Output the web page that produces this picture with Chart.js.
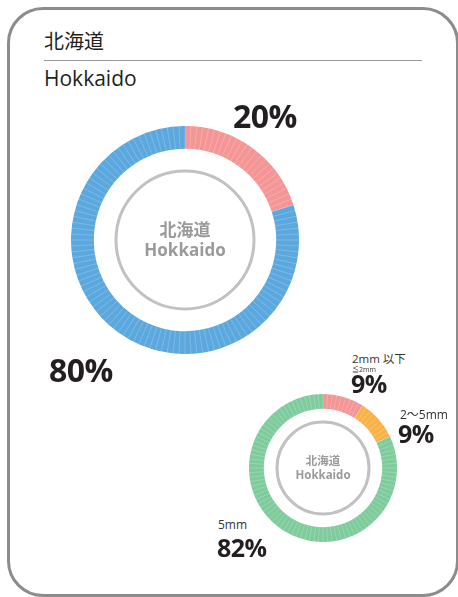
<!DOCTYPE html>
<html>
<head>
<meta charset="utf-8">
<script src="https://cdn.jsdelivr.net/npm/chart.js@4"></script>
<style>
  html, body { margin: 0; padding: 0; background: #fff; }
  body { width: 458px; height: 597px; position: relative; overflow: hidden;
         font-family: "Open Sans", "Noto Sans", "Noto Sans CJK JP", sans-serif; color: #231f20; }
  .card { position: absolute; left: 7px; top: 7px; width: 446px; height: 584px;
          border: 3px solid #8c8c8c; border-radius: 36px; }
  .title { position: absolute; left: 44px; font-size: 21px; line-height: 1; }
  .rule { position: absolute; left: 44px; top: 60px; width: 378px; height: 0; border-top: 1px solid #9a9a9a; }
  .pct { position: absolute; font-weight: 700; line-height: 1; letter-spacing: -0.5px; }
  .cap { position: absolute; font-size: 12px; line-height: 1; color: #333; }
  .box { position: absolute; }
</style>
</head>
<body>
<div class="card"></div>
<div class="title" style="top:31px; font-family:'Noto Sans CJK JP'; font-size:20px;">北海道</div>
<div class="rule"></div>
<div class="title" style="top:68px;">Hokkaido</div>

<div class="box" style="left:71px; top:126px; width:228px; height:228px;"><canvas id="chartAll"></canvas></div>
<div class="box" style="left:249px; top:394px; width:148px; height:148px;"><canvas id="chartSize"></canvas></div>

<div class="pct" id="pAll0" style="left:233px; top:100px; font-size:32px;"></div>
<div class="pct" id="pAll1" style="left:49px; top:354px; font-size:32px;"></div>

<div class="cap" id="cSize0" style="left:352px; top:353px; font-size:11.5px;"></div>
<div class="cap" id="cSize0b" style="left:352px; top:366px; font-size:7px;"></div>
<div class="pct" id="pSize0" style="left:351px; top:371px; font-size:25px;"></div>
<div class="cap" id="cSize1" style="left:400px; top:409px;"></div>
<div class="pct" id="pSize1" style="left:398px; top:421px; font-size:25px;"></div>
<div class="cap" id="cSize2" style="left:218px; top:519px;"></div>
<div class="pct" id="pSize2" style="left:217px; top:535px; font-size:25px;"></div>

<script>
// 北海道: share of all pieces, and breakdown by size
const allLabels = ['該当', 'その他'];
const allShares = [20, 80];
const allColors = ['#f49695', '#5ba8de'];

const sizeLabels = ['2mm 以下', '2〜5mm', '5mm'];
const sizeNotes = ['≦2mm', '', ''];
const sizeShares = [9, 9, 82];
const sizeColors = ['#f49695', '#f9b248', '#7ecb9c'];

const centerLines = ['北海道', 'Hokkaido'];

// ring ticks, grey inner circle and the centre caption
const ringDecor = {
  id: 'ringDecor',
  afterDatasetsDraw(chart, args, opts) {
    const arc = chart.getDatasetMeta(0).data[0];
    if (!arc) return;
    const { x, y, innerRadius, outerRadius } = arc.getProps(['x', 'y', 'innerRadius', 'outerRadius'], true);
    const c = chart.ctx;
    c.save();
    c.strokeStyle = 'rgba(255,255,255,0.35)';
    c.lineWidth = 0.6;
    for (let i = 0; i < opts.ticks; i++) {
      const a = i / opts.ticks * Math.PI * 2;
      c.beginPath();
      c.moveTo(x + Math.cos(a) * innerRadius, y + Math.sin(a) * innerRadius);
      c.lineTo(x + Math.cos(a) * outerRadius, y + Math.sin(a) * outerRadius);
      c.stroke();
    }
    c.strokeStyle = '#c1c1c4';
    c.lineWidth = opts.ringWidth;
    c.beginPath();
    c.arc(x, y, opts.ringRadius, 0, Math.PI * 2);
    c.stroke();
    c.fillStyle = '#9a9a9c';
    c.textAlign = 'center';
    c.textBaseline = 'middle';
    c.font = `700 ${opts.fontSize}px "Noto Sans CJK JP"`;
    c.fillText(centerLines[0], x, y - opts.fontSize * 0.62);
    c.font = `700 ${opts.fontSize}px "Open Sans"`;
    c.fillText(centerLines[1], x, y + opts.fontSize * 0.66);
    c.restore();
  }
};

function ring(id, labels, data, colors, decor) {
  return new Chart(document.getElementById(id), {
    type: 'doughnut',
    data: {
      labels: labels,
      datasets: [{ data: data, backgroundColor: colors, borderWidth: 0 }]
    },
    options: {
      responsive: true,
      maintainAspectRatio: false,
      animation: false,
      cutout: '80%',
      layout: { padding: 0 },
      plugins: { legend: { display: false }, tooltip: { enabled: false }, ringDecor: decor }
    },
    plugins: [ringDecor]
  });
}

ring('chartAll', allLabels, allShares, allColors, { ticks: 120, ringRadius: 69, ringWidth: 3, fontSize: 17 });
ring('chartSize', sizeLabels, sizeShares, sizeColors, { ticks: 100, ringRadius: 46, ringWidth: 3, fontSize: 11.5 });

allShares.forEach((v, i) => { document.getElementById('pAll' + i).textContent = v + '%'; });
sizeShares.forEach((v, i) => {
  document.getElementById('pSize' + i).textContent = v + '%';
  document.getElementById('cSize' + i).textContent = sizeLabels[i];
});
document.getElementById('cSize0b').textContent = sizeNotes[0];
</script>
</body>
</html>
